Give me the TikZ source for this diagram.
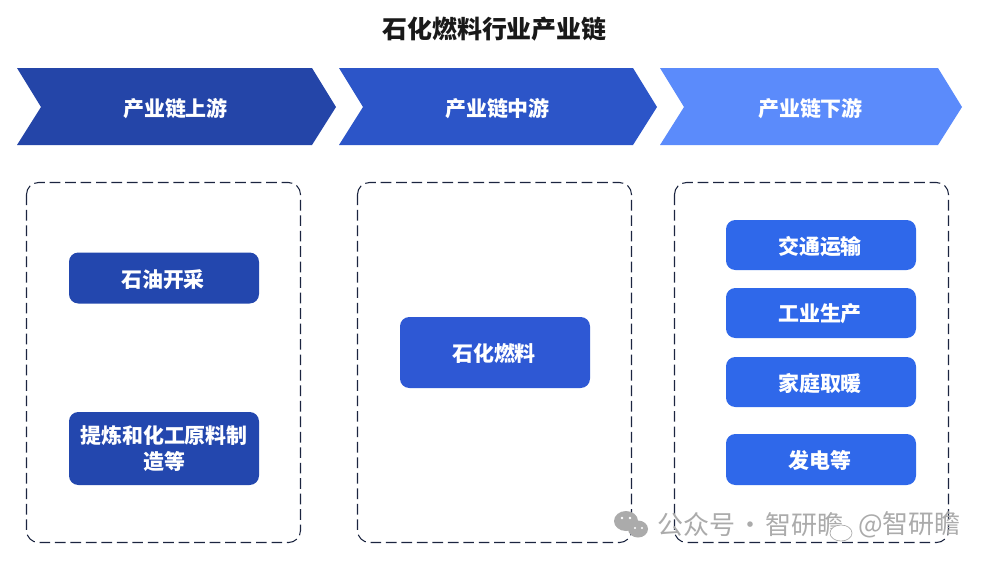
\documentclass[tikz,border=0pt]{standalone}
\usepackage{fontspec}
\newfontfamily\cjk{Noto Sans CJK SC}
\definecolor{upblue}{HTML}{2445A8}
\definecolor{midblue}{HTML}{2C55C8}
\definecolor{lowblue}{HTML}{5B8BFB}
\definecolor{boxup}{HTML}{2347AE}
\definecolor{boxmid}{HTML}{2E58D4}
\definecolor{boxlow}{HTML}{2F68EA}
\definecolor{dashcol}{HTML}{1C2540}
\definecolor{wm}{HTML}{ABABAB}
\newcommand{\itemlabel}[2]{\raisebox{-#1}[12pt][0pt]{#2}\hspace*{1.5pt}}
\tikzset{
  panel/.style={draw=dashcol,line width=0.8pt,dash pattern=on 8pt off 3.6pt,rounded corners=9pt},
  itembox/.style={rounded corners=7pt,minimum width=142.5pt,text=white,font=\cjk\bfseries\fontsize{15.7pt}{20pt}\selectfont,align=center,inner sep=0pt},
  headtext/.style={text=white,font=\cjk\bfseries\fontsize{15.7pt}{20pt}\selectfont},
  wmtext/.style={text=wm,font=\cjk\fontsize{19.5pt}{22pt}\selectfont,inner sep=0pt}
}
\begin{document}
\begin{tikzpicture}[x=0.75pt,y=-0.75pt]
\useasboundingbox[fill=white] (0,0) rectangle (981,562);
\node[font=\cjk\bfseries\fontsize{18.7pt}{22pt}\selectfont,text=black!90,inner sep=0pt] (title) at (494.5,29.5) {石化燃料行业产业链};
% chevrons
\fill[upblue] (17,68) -- (312,68) -- (336,107) -- (312,145) -- (17,145) -- (41,107) -- cycle;
\fill[midblue] (339,68) -- (633,68) -- (657,107) -- (633,145) -- (339,145) -- (363,107) -- cycle;
\fill[lowblue] (660,68) -- (938,68) -- (962,107) -- (938,145) -- (660,145) -- (684,107) -- cycle;
\node[headtext] (h1) at (175.5,109) {产业链上游};
\node[headtext] (h2) at (497.5,109) {产业链中游};
\node[headtext] (h3) at (810.5,109) {产业链下游};
% panels
\draw[panel] (26.5,182.5) rectangle (300.5,542.5);
\draw[panel] (357.5,182.5) rectangle (631.5,542.5);
\draw[panel] (674.5,182.5) rectangle (948.5,542.5);
% items
\node[itembox,fill=boxup,minimum height=38.25pt] (a1) at (164,278) {\itemlabel{0.75pt}{石油开采}};
\node[itembox,fill=boxup,minimum height=54.75pt] (a2) at (164,448.5) {提炼和化工原料制\\造等};
\node[itembox,fill=boxmid,minimum height=53.25pt] (b1) at (495,352.5) {\itemlabel{1.1pt}{石化燃料}};
\node[itembox,fill=boxlow,minimum height=37.5pt] (c1) at (821,245) {\itemlabel{0.75pt}{交通运输}};
\node[itembox,fill=boxlow,minimum height=37.5pt] (c2) at (821,313) {\itemlabel{0.4pt}{工业生产}};
\node[itembox,fill=boxlow,minimum height=37.5pt] (c3) at (821,382) {\itemlabel{0.75pt}{家庭取暖}};
\node[itembox,fill=boxlow,minimum height=38.25pt] (c4) at (821,459.5) {\itemlabel{0.4pt}{发电等}};
% watermark
\fill[wm] (626,521) ellipse (12 and 10);
\fill[wm] (638,529) ellipse (10 and 8.5);
\fill[white] (622,518) circle (1.4) (630,518) circle (1.4) (635,528) circle (1.2) (642,528) circle (1.2);
\node[wmtext,anchor=west] (w1) at (657,525) {公众号\hspace{-2.6pt} · \hspace{-2.6pt}智研瞻};
\draw[wm,fill=white,line width=0.5pt] (841,533) ellipse (11 and 8);
\node[wmtext,anchor=east] (w2) at (961,525) {@智研瞻};
\end{tikzpicture}
\end{document}
